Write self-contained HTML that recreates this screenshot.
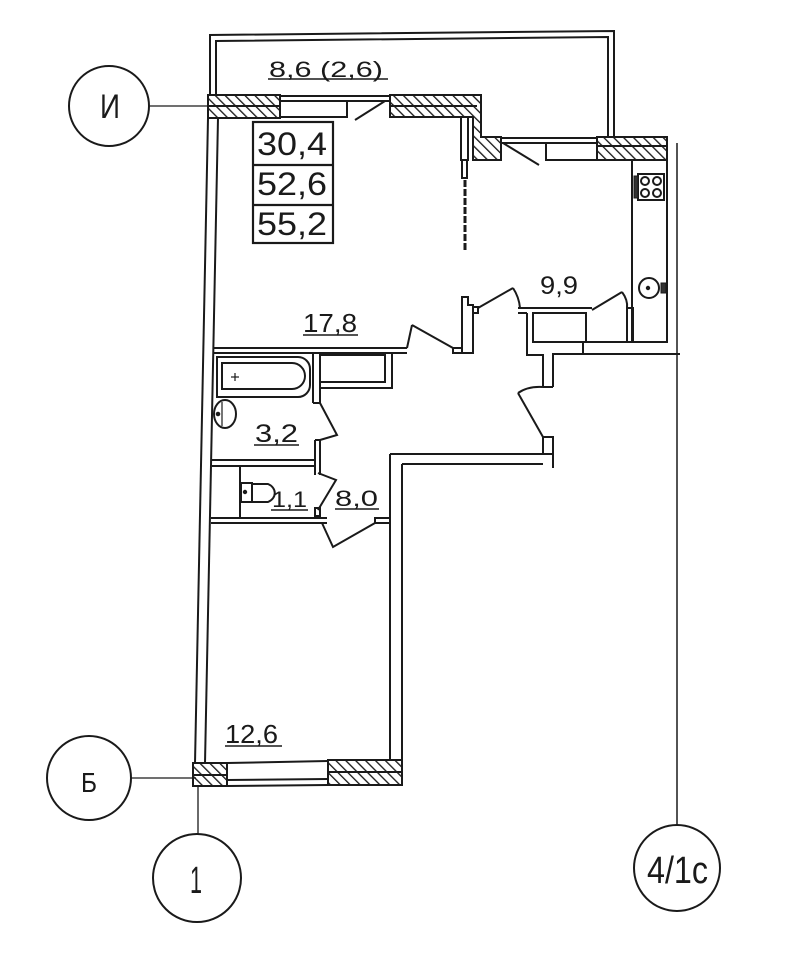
<!DOCTYPE html>
<html><head><meta charset="utf-8"><style>
html,body{margin:0;padding:0;background:#fff;}
svg{display:block;}
text{font-family:"Liberation Sans",sans-serif;fill:#1a1a1a;}
</style></head><body>
<svg width="803" height="960" viewBox="0 0 803 960" xmlns="http://www.w3.org/2000/svg">
<defs>
<pattern id="h" width="7" height="7" patternUnits="userSpaceOnUse" patternTransform="rotate(-45)">
<rect width="7" height="7" fill="#fff"/>
<line x1="0" y1="0" x2="0" y2="7" stroke="#1c1c1c" stroke-width="2.7"/>
</pattern>
</defs>
<rect width="803" height="960" fill="#fff"/>
<g stroke="#1a1a1a" stroke-width="2" fill="none" stroke-linejoin="miter">
<!-- balcony -->
<polyline points="210,95 210,35 614,31 614,137"/>
<polyline points="216,95 216,41 608,37 608,137"/>
<!-- top wall living -->
<rect x="208" y="95" width="72" height="23" fill="url(#h)"/>
<line x1="208" y1="106" x2="280" y2="106"/>
<line x1="280" y1="96" x2="390" y2="96"/>
<line x1="280" y1="101" x2="390" y2="101"/>
<rect x="280" y="101" width="67" height="16"/>
<line x1="355" y1="120" x2="385" y2="101"/>
<polygon points="390,95 481,95 481,137 501,137 501,160 473,160 473,117 390,117" fill="url(#h)"/>
<line x1="390" y1="106" x2="477" y2="106"/>
<rect x="461" y="117" width="7" height="43" fill="#fff"/>
<rect x="462" y="160" width="5" height="18" fill="#fff"/>
<line x1="465" y1="180" x2="465" y2="250" stroke-width="3" stroke-dasharray="7 2"/>
<!-- kitchen top -->
<line x1="501" y1="138" x2="597" y2="138"/>
<line x1="501" y1="143" x2="597" y2="143"/>
<rect x="546" y="143" width="51" height="17"/>
<line x1="503" y1="143" x2="539" y2="165"/>
<rect x="597" y="137" width="70" height="23" fill="url(#h)"/>
<line x1="597" y1="146" x2="667" y2="146"/>
<line x1="667" y1="137" x2="667" y2="343"/>
<line x1="677" y1="143" x2="677" y2="825" stroke-width="1.5"/>
<!-- kitchen counter -->
<line x1="632" y1="160" x2="632" y2="342"/>
<rect x="638" y="174" width="26" height="26"/>
<rect x="634" y="176" width="4" height="22" fill="#333" stroke-width="1"/>
<circle cx="645" cy="181" r="4"/><circle cx="657" cy="181" r="4"/>
<circle cx="645" cy="193" r="4"/><circle cx="657" cy="193" r="4"/>
<circle cx="649" cy="288" r="10"/>
<circle cx="648" cy="288" r="1.2" fill="#1c1c1c"/>
<rect x="661" y="283" width="5" height="10" fill="#333" stroke-width="1"/>
<!-- kitchen bottom -->
<line x1="583" y1="342" x2="667" y2="342"/>
<polyline points="553,387 553,354 680,354"/>
<line x1="583" y1="342" x2="583" y2="354"/>
<rect x="627" y="308" width="6" height="34"/>
<line x1="592" y1="310" x2="622" y2="292"/>
<path d="M622,292 Q628,300 627,308"/>
<!-- shaft -->
<line x1="518" y1="308" x2="592" y2="308"/>
<line x1="518" y1="313" x2="527" y2="313"/>
<rect x="533" y="313" width="53" height="29"/>
<polyline points="527,313 527,355 543,355 543,387"/>
<line x1="543" y1="387" x2="553" y2="387"/>
<!-- kitchen door -->
<rect x="473" y="307" width="5" height="6"/>
<line x1="478" y1="308" x2="513" y2="288"/>
<path d="M513,288 Q519,297 520,308"/>
<!-- partition column -->
<polygon points="462,297 468,297 468,305 473,305 473,353 462,353"/>
<!-- living door -->
<line x1="407" y1="348" x2="412" y2="325"/>
<line x1="412" y1="325" x2="453" y2="348"/>
<rect x="453" y="348" width="9" height="5"/>
<!-- left exterior wall -->
<line x1="208" y1="118" x2="195" y2="763"/>
<line x1="218" y1="118" x2="205" y2="763"/>
<!-- bath top wall -->
<line x1="213" y1="348" x2="407" y2="348"/>
<line x1="213" y1="353" x2="407" y2="353"/>
<!-- bathtub -->
<path d="M217,357 H298 A12,12 0 0 1 310,369 V385 A12,12 0 0 1 298,397 H217 Z"/>
<path d="M222,363 H292 A13,13 0 0 1 292,389 H222 Z"/>
<line x1="231" y1="377" x2="239" y2="377" stroke-width="1.2"/>
<line x1="235" y1="373" x2="235" y2="381" stroke-width="1.2"/>
<!-- wall bath/closet -->
<line x1="313" y1="353" x2="313" y2="403"/>
<line x1="320" y1="353" x2="320" y2="403"/>
<line x1="313" y1="403" x2="320" y2="403"/>
<rect x="320" y="355" width="65" height="27"/>
<polyline points="320,388 392,388 392,353"/>
<!-- bath sink -->
<ellipse cx="225" cy="414" rx="11" ry="14"/>
<line x1="222" y1="402" x2="222" y2="426" stroke-width="1.2"/>
<circle cx="218" cy="414" r="1.3" fill="#1c1c1c"/>
<!-- bath door -->
<polyline points="320,403 337,435 320,440"/>
<line x1="315" y1="440" x2="315" y2="475"/>
<line x1="320" y1="440" x2="320" y2="475"/>
<line x1="315" y1="440" x2="320" y2="440"/>
<!-- bath/WC wall -->
<line x1="212" y1="460" x2="315" y2="460"/>
<line x1="212" y1="466" x2="315" y2="466"/>
<!-- WC -->
<line x1="240" y1="466" x2="240" y2="518"/>
<rect x="241" y="483" width="11" height="19"/>
<path d="M252,484 H268 A12,10 0 0 1 268,502 H252"/>
<circle cx="245" cy="492" r="1.2" fill="#1c1c1c"/>
<polyline points="318,473 336,480 318,510"/>
<rect x="315" y="508" width="5" height="8"/>
<!-- wall below WC -->
<line x1="211" y1="518" x2="327" y2="518"/>
<line x1="211" y1="523" x2="327" y2="523"/>
<polyline points="322,523 333,547 375,523"/>
<rect x="375" y="518" width="15" height="5"/>
<!-- corridor right wall / 12.6 right wall -->
<line x1="390" y1="454" x2="390" y2="762"/>
<line x1="402" y1="464" x2="402" y2="762"/>
<line x1="390" y1="454" x2="553" y2="454"/>
<line x1="402" y1="464" x2="543" y2="464"/>
<rect x="543" y="437" width="10" height="17"/>
<line x1="553" y1="454" x2="553" y2="468"/>
<line x1="518" y1="393" x2="543" y2="437"/>
<path d="M518,393 Q528,386 543,387"/>
<!-- bottom wall -->
<rect x="193" y="763" width="34" height="23" fill="url(#h)"/>
<line x1="193" y1="775" x2="227" y2="775"/>
<line x1="227" y1="763" x2="328" y2="761"/>
<line x1="227" y1="780" x2="328" y2="779"/>
<line x1="227" y1="786" x2="328" y2="785"/>
<rect x="328" y="760" width="74" height="25" fill="url(#h)"/>
<line x1="328" y1="772" x2="402" y2="772"/>
<!-- axes -->
<line x1="150" y1="106" x2="208" y2="106" stroke-width="1.3"/>
<line x1="131" y1="778" x2="196" y2="778" stroke-width="1.3"/>
<line x1="198" y1="786" x2="198" y2="834" stroke-width="1.3"/>
<circle cx="109" cy="106" r="40"/>
<circle cx="89" cy="778" r="42"/>
<circle cx="197" cy="878" r="44"/>
<circle cx="677" cy="868" r="43"/>
<!-- area box -->
<rect x="253" y="122" width="80" height="121" stroke-width="2.2"/>
<line x1="253" y1="165" x2="333" y2="165" stroke-width="2.2"/>
<line x1="253" y1="205" x2="333" y2="205" stroke-width="2.2"/>
<!-- underlines -->
<line x1="268" y1="79" x2="388" y2="79" stroke-width="1.6"/>
<line x1="303" y1="335" x2="358" y2="335" stroke-width="1.6"/>
<line x1="254" y1="445" x2="299" y2="445" stroke-width="1.6"/>
<line x1="271" y1="510" x2="308" y2="510" stroke-width="1.6"/>
<line x1="335" y1="509" x2="379" y2="509" stroke-width="1.6"/>
<line x1="225" y1="746" x2="282" y2="746" stroke-width="1.6"/>
</g>
<!-- text -->
<text x="269" y="77" font-size="22" textLength="114" lengthAdjust="spacingAndGlyphs">8,6 (2,6)</text>
<text x="257" y="155" font-size="32" textLength="70" lengthAdjust="spacingAndGlyphs">30,4</text>
<text x="257" y="195" font-size="32" textLength="70" lengthAdjust="spacingAndGlyphs">52,6</text>
<text x="257" y="235" font-size="32" textLength="70" lengthAdjust="spacingAndGlyphs">55,2</text>
<text x="303" y="332" font-size="26" textLength="54" lengthAdjust="spacingAndGlyphs">17,8</text>
<text x="255" y="442" font-size="25" textLength="43" lengthAdjust="spacingAndGlyphs">3,2</text>
<text x="272" y="507" font-size="22" textLength="35" lengthAdjust="spacingAndGlyphs">1,1</text>
<text x="335" y="506" font-size="22" textLength="43" lengthAdjust="spacingAndGlyphs">8,0</text>
<text x="540" y="294" font-size="25" textLength="38" lengthAdjust="spacingAndGlyphs">9,9</text>
<text x="225" y="743" font-size="26" textLength="53" lengthAdjust="spacingAndGlyphs">12,6</text>
<text x="100" y="118" font-size="34" textLength="20" lengthAdjust="spacingAndGlyphs">И</text>
<text x="81" y="792" font-size="28" textLength="16" lengthAdjust="spacingAndGlyphs">Б</text>
<text x="190" y="893" font-size="38" textLength="12" lengthAdjust="spacingAndGlyphs">1</text>
<text x="647" y="883" font-size="38" textLength="61" lengthAdjust="spacingAndGlyphs">4/1c</text>
</svg>
</body></html>
